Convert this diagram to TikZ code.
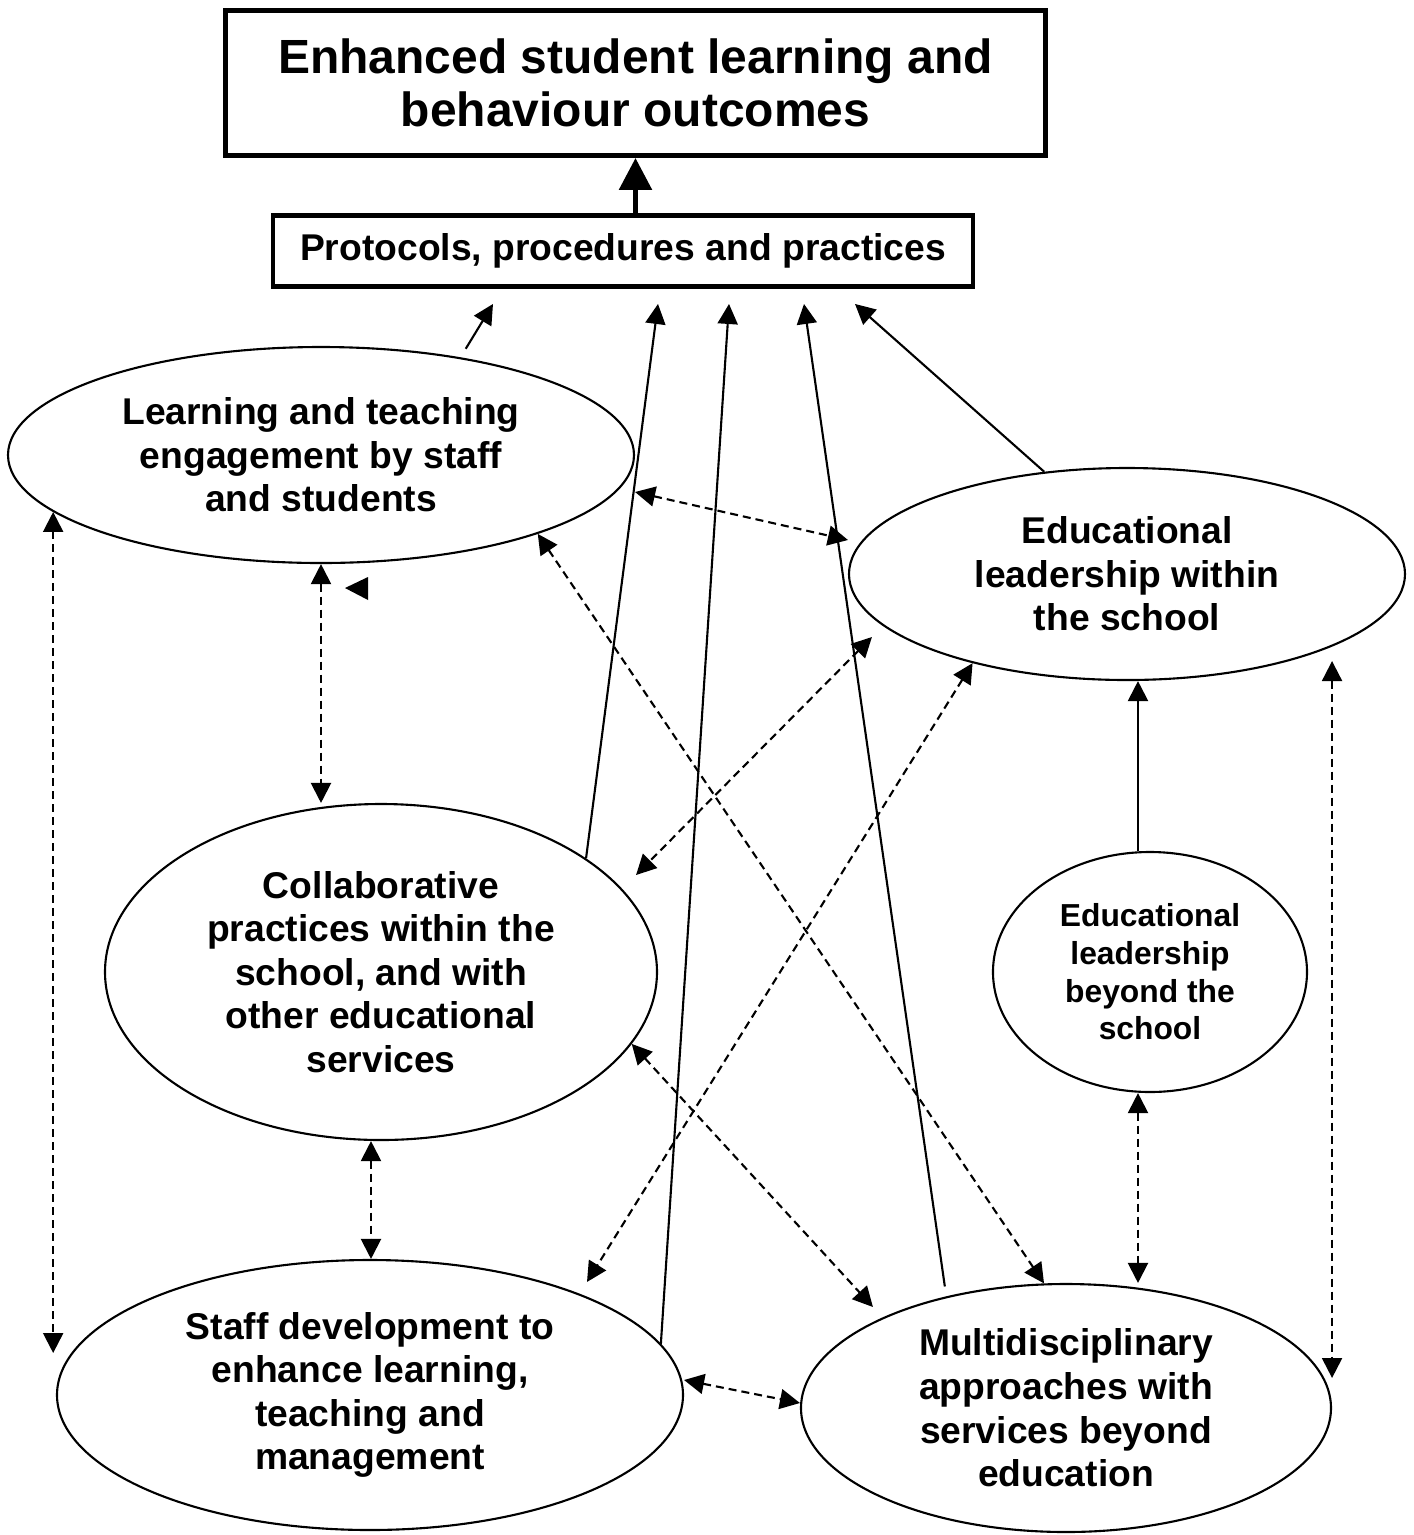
\documentclass[tikz,border=0pt]{standalone}
\usepackage{fontspec}
\setmainfont{Liberation Sans}
\usepackage{tikz}
\usetikzlibrary{shapes.geometric, arrows.meta}

\tikzset{
  bubble/.style={ellipse, draw, line width=0.6pt, inner sep=0pt, align=center,
                 font=\fontsize{10.6}{12.4}\selectfont\bfseries},
  outcomebox/.style={rectangle, draw, line width=1.4pt, inner sep=0pt, align=center},
  flow/.style={line width=0.6pt, -{Triangle[length=2mm,width=2mm]}},
  link/.style={line width=0.6pt, dash pattern=on 0.8mm off 0.5mm,
               {Triangle[length=2mm,width=2mm]}-{Triangle[length=2mm,width=2mm]}},
}

\begin{document}
\begin{tikzpicture}
                \useasboundingbox (0,0) rectangle (14.13,-15.35);
                \node[outcomebox, minimum width=8.2cm, minimum height=1.45cm, font=\fontsize{13.65}{15.1}\selectfont\bfseries] (goal) at (6.355,-0.83) {Enhanced student learning and\\behaviour outcomes};
                \node[outcomebox, minimum width=7.0cm, minimum height=0.71cm, font=\fontsize{10.6}{12.4}\selectfont\bfseries] (protocols) at (6.23,-2.51) {Protocols, procedures and practices};
                \draw[line width=1.6pt, -{Triangle[length=3.2mm,width=3.2mm]}] (goal.south |- protocols.north) -- (goal.south);

                \node[bubble, minimum width=6.26cm, minimum height=2.16cm] (learn) at (3.21,-4.55) {Learning and teaching\\engagement by staff\\and students};
                \node[bubble, minimum width=5.56cm, minimum height=2.12cm] (within) at (11.27,-5.74) {Educational\\leadership within\\the school};
                \node[bubble, minimum width=5.52cm, minimum height=3.36cm] (collab) at (3.81,-9.72) {Collaborative\\practices within the\\school, and with\\other educational\\services};
                \node[bubble, minimum width=3.14cm, minimum height=2.40cm, font=\fontsize{9.05}{10.7}\selectfont\bfseries] (beyond) at (11.50,-9.72) {Educational\\leadership\\beyond the\\school};
                \node[bubble, minimum width=6.26cm, minimum height=2.70cm] (staff) at (3.70,-13.95) {Staff development to\\enhance learning,\\teaching and\\management};
                \node[bubble, minimum width=5.30cm, minimum height=2.48cm] (multi) at (10.66,-14.08) {Multidisciplinary\\approaches with\\services beyond\\education};

                \foreach \src/\dx/\gap in {learn.35/-1.30/1mm, collab.29/0.35/0mm, staff.10/1.06/0mm, multi.137/1.81/1mm, within.129/2.32/0mm}{
                  \draw[flow, shorten <=\gap] (\src) -- ([xshift=\dx cm, yshift=-1.5mm]protocols.south);
                }
                \draw[flow] ([xshift=-1.2mm]beyond.north) -- ([xshift=-1.2mm]beyond.north |- within.south);

                \draw[link] (learn.192) -- (learn.192 |- staff.172);
                \draw[link] (learn.south) -- (learn.south |- collab.north);
                \draw[link] ([yshift=-3.7mm]learn.east) -- ([yshift=3.4mm]within.west);
                \draw[link] (learn.-20) -- (multi.100);
                \draw[link] ([xshift=2.4mm, yshift=-6.3mm]within.west) -- ([xshift=-2.2mm, yshift=9.7mm]collab.east);
                \draw[link] (within.210) -- ([xshift=2.17cm, yshift=-2.3mm]staff.north);
                \draw[link] (collab.-16) -- ([xshift=7.3mm, yshift=10.1mm]multi.west);
                \draw[link] ([xshift=-1mm]collab.south) -- ([xshift=-1mm]collab.south |- staff.north);
                \draw[link] ([yshift=1.5mm]staff.east) -- ([yshift=0.5mm]multi.west);
                \draw[link] ([xshift=-1.2mm]beyond.south) -- ([xshift=-1.2mm]beyond.south |- multi.north);
                \draw[link] ([yshift=2mm]multi.east |- within.south) -- ([yshift=3mm]multi.east);

                \fill (3.45,-5.88) -- (3.68,-5.77) -- (3.68,-6.00) -- cycle;
\end{tikzpicture}
\end{document}
